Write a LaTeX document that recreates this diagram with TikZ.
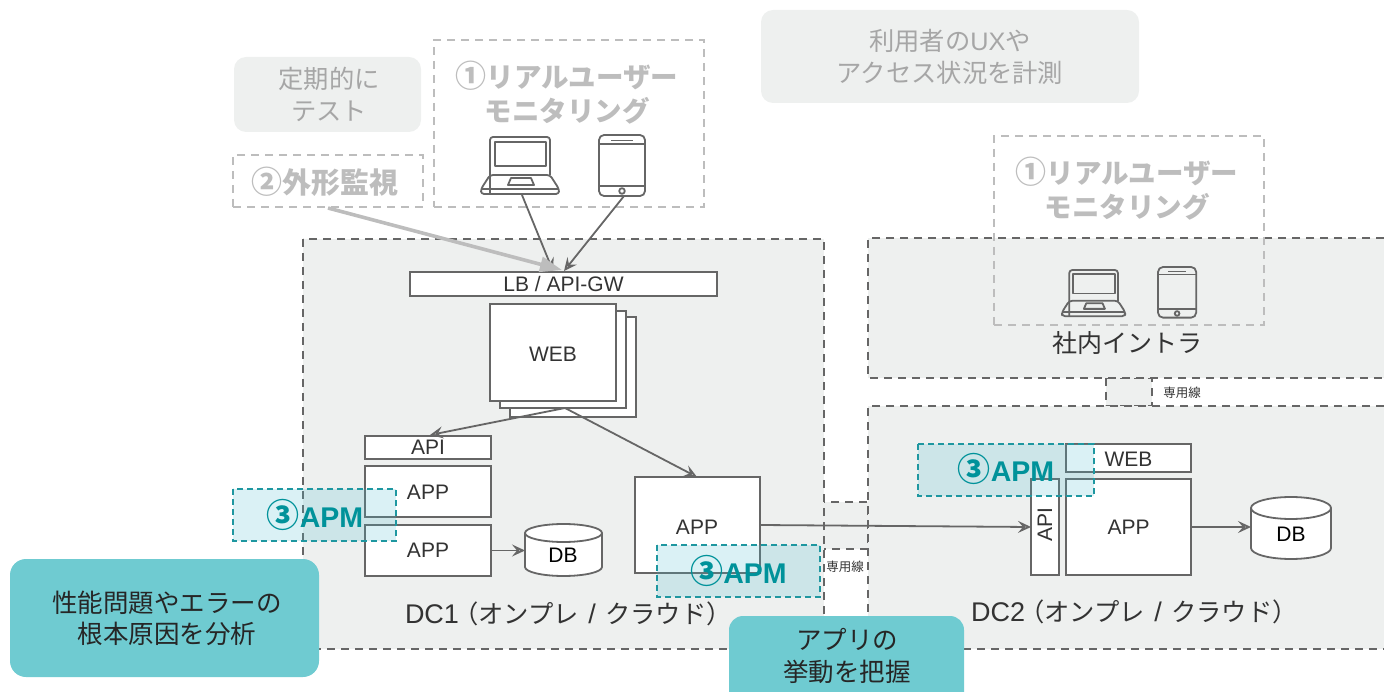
\documentclass[tikz,border=0pt]{standalone}
\usepackage{fontspec}
\setmainfont{Liberation Sans}
\newfontfamily\jpf{Noto Sans CJK JP}
\newcommand{\J}[1]{{\fontsize{25.3}{30}\selectfont\jpf #1}}
\newcommand{\CN}[2]{{\fontsize{#1}{10}\selectfont\jpf #2}}
\usetikzlibrary{arrows.meta}
\definecolor{dcgray}{HTML}{EEF0EF}
\definecolor{linegray}{HTML}{666666}
\definecolor{softgray}{HTML}{BDBDBD}
\definecolor{softtext}{HTML}{A6A6A6}
\definecolor{tealbox}{HTML}{6FCBD1}
\definecolor{apmline}{HTML}{1E97A0}
\definecolor{apmfill}{RGB}{70,185,205}
\definecolor{apmtext}{HTML}{00929A}
\definecolor{inktext}{HTML}{333333}
\newcommand{\fs}[2]{\fontsize{#1}{#2}\selectfont}
\tikzset{
  x=1pt,y=-1pt,
  every node/.style={inner sep=0pt,outer sep=0pt,text=inktext},
  zone/.style={draw=linegray,fill=dcgray,line width=1.6pt,dash pattern=on 8pt off 6pt},
  softbox/.style={draw=softgray,line width=1.6pt,dash pattern=on 8pt off 6pt},
  softlabel/.style={text=softgray,align=center,font=\fs{27.5}{34}\jpf\bfseries},
  notebox/.style={fill=dcgray,rounded corners=12pt},
  notetext/.style={text=softtext,align=center,font=\fs{25.3}{32}\jpf},
  tealnote/.style={fill=tealbox,rounded corners=16pt},
  tealtext/.style={text=black!85,align=center,font=\fs{25.5}{31.5}\jpf},
  solidbox/.style={draw=linegray,fill=white,line width=1.8pt},
  lbl/.style={font=\fs{21}{25}},
  apmbox/.style={draw=apmline,fill=apmfill,fill opacity=.2,line width=1.6pt,dash pattern=on 6pt off 4pt},
  apmlabel/.style={text=apmtext,font=\fs{28.5}{32}\bfseries},
  small/.style={font=\fs{12.5}{15}\jpf},
  flow/.style={draw=linegray,line width=1.8pt,-{Stealth[length=13pt,width=12pt,inset=5pt,fill=none,open]}},
  softflow/.style={draw=softgray,line width=3.6pt,-{Stealth[length=22pt,width=15pt,inset=0pt]}},
  icon/.style={draw=linegray,line width=1.8pt,line join=round},
  dbshape/.style={draw=linegray,fill=white,line width=1.8pt},
  dclabel/.style={anchor=west,font=\fs{27}{30},text=inktext},
}
\newcommand{\laptop}[4]{%
 \begin{scope}[shift={(#1,#2)},scale=#3]
  \draw[icon,rounded corners=3pt] (9,57) -- (9,0) -- (69,0) -- (69,38);
  \draw[icon,rounded corners=3pt] (9,38) -- (0,52) -- (0,57) -- (78,57) -- (78,52) -- (69,38) -- cycle;
  \draw[icon] (14,5) rectangle (65,29);
  \draw[icon] (27,48) -- (30,41) -- (50,41) -- (53,48) -- cycle;
  \draw[icon] (1,52) -- (77,52);
  \coordinate (#4) at (41,58);
 \end{scope}}
\newcommand{\phone}[4]{%
 \begin{scope}[shift={(#1,#2)},scale=#3]
  \draw[icon,rounded corners=5pt] (0,0) rectangle (46,61);
  \draw[icon] (0,9) -- (46,9) (0,51) -- (46,51) (12,5.5) -- (34,5.5);
  \draw[icon] (23,56) circle (2.8);
  \coordinate (#4) at (25,61);
 \end{scope}}
\newcommand{\dbdrum}[5]{%
  \path[dbshape] (#1,#3+#5) arc[start angle=180,end angle=0,x radius={(#2-#1)/2},y radius=-#5]
     -- (#2,#4-#5) arc[start angle=0,end angle=-180,x radius={(#2-#1)/2},y radius=-#5] -- cycle;
  \draw[dbshape,fill=none] (#1,#3+#5) arc[start angle=180,end angle=360,x radius={(#2-#1)/2},y radius=-#5];
}
\newcommand{\dctext}[1]{#1\hspace{-6pt}\J{（オンプレ}\hspace{2pt} / \hspace{2pt}\J{クラウド）}}
\begin{document}
\begin{tikzpicture}
\useasboundingbox (0,0) rectangle (1384,692);
% zones
\draw[zone] (1106,378) rectangle (1152,406);
\draw[zone] (823,502) rectangle (868,549);
\draw[zone] (303,239) rectangle (824,649);
\draw[zone] (1384,238) -- (868,238) -- (868,378) -- (1384,378);
\draw[zone] (1384,406) -- (868,406) -- (868,649) -- (1384,649);
\node[small] (line1) at (1182,393) {専用線};
\node[small] (line2) at (845,567) {専用線};
% top notes
\node[notebox,minimum width=187pt,minimum height=75pt] (n1) at (327.5,94.5) {};
\node[notetext] at (329,94.5) {定期的に\\テスト};
\node[notebox,minimum width=378pt,minimum height=93pt] (n2) at (950,56.5) {};
\node[notetext] at (n2) {利用者の\textrm{UX}や\\アクセス状況を計測};
\node[softbox,minimum width=190pt,minimum height=52pt] (ext) at (328,181) {};
\node[softlabel,font=\fs{29}{34}\jpf\bfseries] at (325,182) {\CN{31}{②}外形監視};
\node[softbox,minimum width=270pt,minimum height=167pt] (rum1) at (569,123.5) {};
\node[softlabel] at (567,92.5) {\CN{31}{①}リアルユーザー\\モニタリング};
\node[softbox,minimum width=270pt,minimum height=189pt] (rum2) at (1129,230.5) {};
\node[softlabel] at (1127,188.5) {\CN{31}{①}リアルユーザー\\モニタリング};
% devices
\laptop{481}{137}{1}{lapA}
\phone{599}{135}{1}{phoA}
\laptop{1062}{270}{.81}{lapB}
\phone{1158}{267}{.83}{phoB}
% DC1
\node[solidbox,minimum width=307pt,minimum height=24pt,font=\fs{21}{25}] (lb) at (563.5,284) {LB / API-GW};
\node[solidbox,minimum width=126pt,minimum height=100pt] (web3) at (573,367) {};
\node[solidbox,minimum width=126pt,minimum height=97pt] (web2) at (563,359.5) {};
\node[solidbox,minimum width=126pt,minimum height=97pt] (web1) at (553,352.5) {};
\node[lbl] at (553,354) {WEB};
\node[solidbox,minimum width=126pt,minimum height=23pt,lbl] (api1) at (428,447.5) {API};
\node[solidbox,minimum width=126pt,minimum height=51pt] (app1) at (428,491.5) {};
\node[lbl] at (428,492) {APP};
\node[solidbox,minimum width=126pt,minimum height=51pt] (app2) at (428,550.5) {};
\node[lbl] at (428,550) {APP};
\dbdrum{525}{602}{524}{576}{9}
\node[minimum width=77pt,minimum height=52pt] (db1) at (563.5,550) {};
\node[lbl,text=black] at (563,555) {DB};
\node[solidbox,minimum width=125pt,minimum height=96pt] (app3) at (697.5,525) {};
\node[lbl] at (697,527) {APP};
\node[dclabel] (dc1) at (405,614) {\dctext{DC1}};
% DC2
\node[solidbox,minimum width=125pt,minimum height=28pt] (web4) at (1128.5,458) {};
\node[lbl] at (1128.5,459.5) {WEB};
\node[solidbox,minimum width=125pt,minimum height=96pt,lbl] (app4) at (1128.5,527) {APP};
\node[solidbox,minimum width=28pt,minimum height=96pt] (api2) at (1045,527) {};
\node[lbl,rotate=90] at (1045,525) {API};
\dbdrum{1251}{1331}{497}{559}{11}
\node[minimum width=80pt,minimum height=62pt] (db2) at (1291,528) {};
\node[lbl,text=black] at (1291,534) {DB};
\node[dclabel] (dc2) at (971,612) {\dctext{DC2}};
\node[font=\fs{25}{30}\jpf] (intra) at (1127,343) {社内イントラ};
% connectors
\coordinate (lbA) at (553,271);
\coordinate (lbB) at (564,271);
\coordinate (lbC) at (562,270);
\coordinate (extOut) at (328,208);
\draw[flow] (lapA) -- (lbA);
\draw[flow] (phoA) -- (lbB);
\draw[softflow] (extOut) -- (lbC);
\coordinate (webOut) at (565,408);
\coordinate (apiTop) at (430,435);
\coordinate (appTop) at (697,477);
\draw[flow] (webOut) -- (apiTop);
\draw[flow] (webOut) -- (appTop);
\draw[flow] (app2.east) -- (db1.west |- app2.east);
\draw[flow] (app3.east) -- (api2.west);
\draw[flow] (app4.east) -- (db2.west |- app4.east);
% APM overlays
\draw[apmbox] (233,489) rectangle (396,541);
\node[apmlabel] (apm1) at (315,514.5) {\CN{33}{③}APM};
\draw[apmbox] (657,545) rectangle (820,597);
\node[apmlabel] (apm2) at (738.5,570.5) {\CN{33}{③}APM};
\draw[apmbox] (918,444) rectangle (1094,496);
\node[apmlabel] (apm3) at (1006,468.5) {\CN{33}{③}APM};
% teal notes
\node[tealnote,minimum width=309pt,minimum height=118pt] (t1) at (164.5,618) {};
\node[tealtext] at (167,618.5) {性能問題やエラーの\\根本原因を分析};
\begin{scope}
\clip (700,600) rectangle (1000,692);
\fill[tealbox,rounded corners=14pt] (729,616) rectangle (964,710);
\end{scope}
\node[tealtext] (t2) at (847,656) {アプリの\\挙動を把握};
\end{tikzpicture}
\end{document}
